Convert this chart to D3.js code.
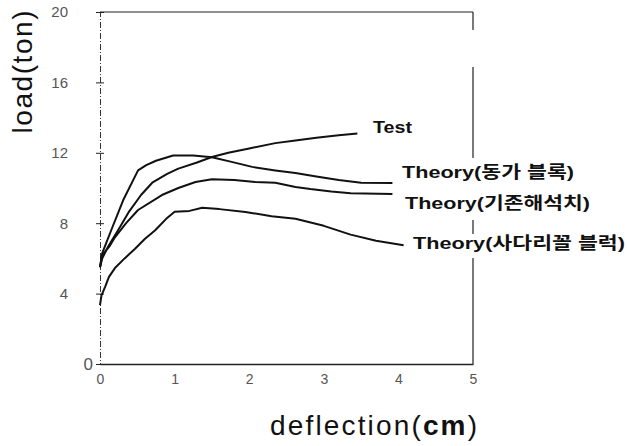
<!DOCTYPE html>
<meta charset="utf-8">
<style>
  body { margin: 0; background: #fff; }
  .line { fill: none; stroke: #111; stroke-width: 2px; stroke-linejoin: round; }
  .tick text { fill: #555; font-family: "Liberation Sans", Arial, sans-serif; }
</style>
<body>
<script src="https://d3js.org/d3.v7.min.js"></script>
<script>
  // values
  var xTicks = [0, 1, 2, 3, 4, 5];
  var yTicks = [0, 4, 8, 12, 16, 20];

  // Theory(동가 블록)
  var xA = [0, 0.03, 0.15, 0.31, 0.51, 0.62, 0.75, 0.98, 1.25, 1.5, 1.75, 2.04, 2.35, 2.62, 2.9, 3.2, 3.5, 3.92];
  var yA = [5.5, 6.3, 7.6, 9.3, 11.0, 11.3, 11.55, 11.85, 11.85, 11.75, 11.5, 11.2, 11.0, 10.85, 10.65, 10.45, 10.3, 10.28];
  // Test
  var xB = [0, 0.03, 0.1, 0.27, 0.38, 0.55, 0.7, 0.9, 1.05, 1.3, 1.5, 1.72, 2.0, 2.35, 2.62, 2.9, 3.2, 3.45];
  var yB = [5.5, 6.0, 6.6, 7.8, 8.6, 9.6, 10.3, 10.8, 11.1, 11.45, 11.76, 12.0, 12.25, 12.55, 12.7, 12.85, 13.0, 13.1];
  // Theory(기존해석치)
  var xC = [0, 0.03, 0.13, 0.2, 0.35, 0.51, 0.83, 1.05, 1.28, 1.5, 1.8, 2.08, 2.35, 2.62, 2.82, 3.1, 3.36, 3.92];
  var yC = [5.5, 6.2, 6.7, 7.2, 8.0, 8.75, 9.6, 10.0, 10.34, 10.5, 10.45, 10.34, 10.3, 10.06, 9.94, 9.8, 9.7, 9.66];
  // Theory(사다리꼴 블럭)
  var xD = [0, 0.02, 0.07, 0.12, 0.2, 0.33, 0.47, 0.6, 0.74, 0.9, 1.0, 1.2, 1.37, 1.6, 1.95, 2.3, 2.62, 3.0, 3.36, 3.7, 4.07];
  var yD = [3.35, 3.9, 4.4, 4.95, 5.45, 6.0, 6.55, 7.1, 7.6, 8.3, 8.65, 8.7, 8.88, 8.8, 8.64, 8.4, 8.25, 7.85, 7.35, 7.0, 6.75];

  var W = 627, H = 446;
  var x = d3.scaleLinear().domain([0, 5]).range([100, 473]);
  var y = d3.scaleLinear().domain([0, 20]).range([364, 12]);

  var svg = d3.select("body").append("svg")
    .attr("width", W)
    .attr("height", H)
    .style("font-family", "'Liberation Sans', Arial, sans-serif");

  // frame: top line, and a broken right line
  svg.append("line").attr("x1", x(0)).attr("x2", x(5)).attr("y1", y(20)).attr("y2", y(20))
    .attr("stroke", "#222").attr("stroke-width", 1.2);
  svg.append("line").attr("x1", x(5)).attr("x2", x(5)).attr("y1", y(20)).attr("y2", y(0))
    .attr("stroke", "#222").attr("stroke-width", 1.2)
    .attr("stroke-dasharray", "18,37,91,62,14,24,106");

  // y axis
  var yAxis = svg.append("g")
    .attr("transform", "translate(" + x(0) + ",0)")
    .call(d3.axisLeft(y).tickValues(yTicks).tickSize(4).tickPadding(28));
  yAxis.select(".domain").attr("stroke", "#333").attr("stroke-dasharray", "6,2,1,2");
  yAxis.selectAll(".tick line").attr("x2", 4).attr("x1", -4).attr("stroke", "#222");
  yAxis.selectAll(".tick text").style("font-size", "15px");
  yAxis.selectAll(".tick text").filter(function (d) { return d === 0; })
    .attr("x", -7).style("font-size", "17px").attr("fill", "#111");

  // x axis
  var xAxis = svg.append("g")
    .attr("transform", "translate(0," + y(0) + ")")
    .call(d3.axisBottom(x).tickValues(xTicks).tickFormat(d3.format("d")).tickSize(0).tickPadding(10));
  xAxis.select(".domain").attr("stroke", "#222").attr("stroke-width", 1.3);
  xAxis.selectAll(".tick text").style("font-size", "14px");

  var series = [[xA, yA], [xB, yB], [xC, yC], [xD, yD]];
  var line = d3.line()
    .x(function (d) { return x(d[0]); })
    .y(function (d) { return y(d[1]); });

  svg.selectAll(".line").data(series.map(function (s) {
      return s[0].map(function (v, i) { return [v, s[1][i]]; });
    }))
    .enter().append("path")
    .attr("class", "line")
    .attr("d", line);

  // curve labels
  var labels = [
    { t: "Test", px: 373, py: 133, w: 39 },
    { t: "Theory(동가 블록)", px: 402, py: 178, w: 172 },
    { t: "Theory(기존해석치)", px: 405, py: 209, w: 185 },
    { t: "Theory(사다리꼴 블럭)", px: 413, py: 249, w: 212 }
  ];
  svg.selectAll(".lab").data(labels).enter().append("text")
    .attr("class", "lab")
    .attr("x", function (d) { return d.px; })
    .attr("y", function (d) { return d.py; })
    .attr("textLength", function (d) { return d.w; })
    .attr("lengthAdjust", "spacingAndGlyphs")
    .style("font-family", "'Liberation Sans', 'Noto Sans CJK KR', sans-serif")
    .style("font-weight", "bold")
    .style("font-size", "17px")
    .attr("fill", "#111")
    .text(function (d) { return d.t; });

  // axis titles
  svg.append("text")
    .attr("transform", "translate(32,72) rotate(-90)")
    .attr("text-anchor", "middle")
    .attr("textLength", 123)
    .style("font-size", "28px")
    .attr("fill", "#111")
    .text("load(ton)");

  var xt = svg.append("text")
    .attr("x", 270).attr("y", 435)
    .attr("textLength", 207)
    .style("font-size", "28px")
    .attr("fill", "#111");
  xt.append("tspan").text("deflection(");
  xt.append("tspan").style("font-weight", "bold").text("cm");
  xt.append("tspan").text(")");
</script>
</body>
